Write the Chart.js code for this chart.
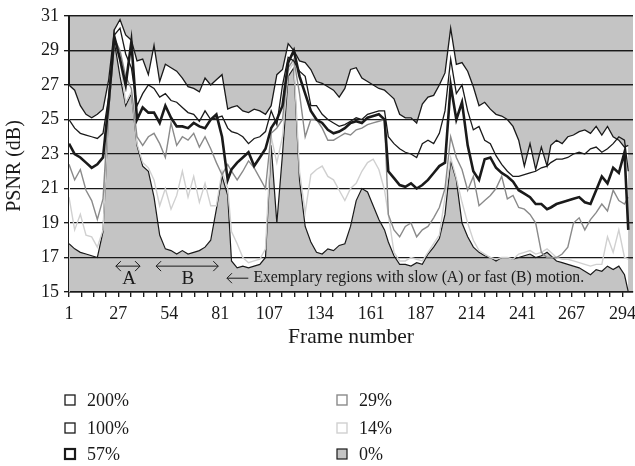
<!DOCTYPE html>
<html>
<head>
<meta charset="utf-8">
<script src="https://cdn.jsdelivr.net/npm/chart.js@4.4.1/dist/chart.umd.min.js"></script>
<style>
  html, body { margin: 0; padding: 0; background: #fff; }
  canvas { display: block; }
</style>
</head>
<body>
<canvas id="psnrChart" width="635" height="466"></canvas>
<script>
// frame numbers of the sampled points
var frames = [1,4,7,10,13,16,19,22,25,28,31,34,37,40,43,46,49,52,55,58,61,64,67,70,73,76,79,82,85,87,
  90,93,96,99,102,105,108,111,114,117,120,123,126,129,132,135,138,141,144,147,150,153,156,159,162,165,168,170,173,176,
  179,182,185,188,191,194,197,200,203,206,209,212,215,218,221,224,227,230,233,236,239,242,245,248,251,254,256,259,262,265,
  268,271,274,277,280,283,286,289,292,295,297];

// PSNR (dB) per series
var psnr200 = [27.0,26.7,25.8,25.3,25.1,25.3,25.6,27.3,30.2,30.8, 29.9,29.6,28.4,28.5,27.6,29.3,27.2,28.2,28.0,27.8,
  27.4,26.9,26.8,26.6,27.4,27.0,27.3,27.6,25.6,25.7, 25.8,25.5,25.4,25.6,25.5,25.3,25.8,27.6,27.9,29.4,
  29.0,28.4,28.3,27.9,27.2,27.1,26.9,26.7,26.3,26.8, 27.9,28.0,27.4,27.2,27.0,26.8,26.7,26.5,26.2,25.3,
  25.1,25.1,24.8,25.9,26.3,26.4,27.0,27.7,30.3,28.2, 28.3,27.8,26.9,25.8,26.0,25.6,25.3,25.2,25.0,24.6,
  23.8,22.3,23.6,22.1,23.4,22.3,23.5,23.8,23.6,24.0, 24.1,24.3,24.4,24.2,24.6,24.1,24.6,24.0,23.8,23.4, 23.5];
var psnr100 = [25.0,24.5,24.2,24.1,24.0,23.9,24.2,26.3,29.9,30.3, 28.8,28.0,25.8,26.5,27.0,26.8,26.3,26.5,26.1,26.0,
  25.7,25.4,25.3,24.9,25.5,25.0,25.1,25.2,24.5,24.3, 24.2,24.0,23.6,23.9,24.0,24.3,25.5,24.7,27.0,28.6,
  28.4,27.8,27.5,25.8,25.8,25.3,25.0,24.8,24.6,24.7, 24.9,25.1,25.0,25.3,25.4,25.5,25.5,24.0,23.6,23.3,
  23.1,23.0,22.8,23.6,23.8,23.6,24.2,25.5,28.5,26.5, 27.0,25.5,24.4,24.6,23.8,23.6,22.9,22.4,22.0,21.7,
  21.7,21.8,21.9,22.0,22.2,22.3,22.5,22.7,22.7,22.8, 23.0,23.1,23.0,23.3,23.4,23.1,23.3,23.6,24.0,23.8, 22.0];
var psnr57 = [23.6,23.0,22.8,22.5,22.2,22.4,22.8,26.0,29.8,28.5, 27.0,29.5,25.0,25.7,25.4,25.4,24.8,25.8,25.1,24.6,
  24.6,24.5,24.8,24.6,24.5,25.0,25.3,24.0,21.5,22.1, 22.5,22.8,23.1,22.3,22.8,23.3,24.5,25.0,25.8,28.3,
  29.0,27.5,26.5,25.5,25.0,24.8,24.4,24.2,24.3,24.5, 24.8,24.9,24.8,25.1,25.2,25.3,25.0,22.0,21.6,21.2,
  21.1,21.3,21.0,21.2,21.5,21.9,22.3,22.5,27.0,25.0, 26.0,23.5,22.0,21.5,22.7,22.8,22.2,21.9,21.7,21.4,
  20.9,20.7,20.5,20.1,20.1,19.8,19.9,20.1,20.2,20.3, 20.4,20.5,20.2,20.1,20.9,21.7,21.3,22.2,21.9,23.1, 18.6];
var psnr29 = [22.4,21.5,22.1,20.9,20.3,19.2,20.4,25.8,29.7,29.0, 27.5,26.8,24.0,23.5,24.0,24.2,23.6,22.8,24.8,23.5,
  24.0,23.8,24.2,23.4,24.0,23.3,22.5,21.8,22.4,22.0, 21.5,22.0,22.6,22.2,21.6,21.0,24.2,24.5,25.0,28.0,
  28.5,26.5,24.0,25.0,25.0,24.5,23.8,23.8,24.0,24.2, 24.1,24.4,24.5,24.7,24.8,24.9,25.0,19.5,18.6,18.2,
  18.8,19.0,18.2,18.6,18.8,19.3,19.9,21.0,24.0,22.8, 22.1,20.9,21.7,20.0,20.3,20.6,21.0,21.7,20.4,20.6,
  19.9,19.8,19.5,19.0,17.3,17.0,17.0,17.0,17.2,17.6, 19.0,19.3,18.6,19.2,19.6,20.1,19.7,20.9,20.3,20.1, 20.5];
var psnr14 = [20.5,18.6,19.5,18.3,18.2,17.6,18.6,25.6,29.6,28.5, 26.0,26.6,23.6,22.5,22.2,21.5,20.0,21.0,19.8,20.6,
  22.0,20.5,21.7,20.2,21.3,20.0,20.0,22.0,21.0,18.5, 17.8,17.0,16.7,16.8,16.9,17.5,24.0,22.5,24.0,27.8,
  28.3,22.0,19.6,21.8,22.1,22.3,21.7,21.5,20.9,20.3, 21.0,21.3,22.0,22.5,22.7,22.1,20.9,19.5,17.3,16.8,
  16.8,17.0,16.9,16.8,17.3,17.8,18.3,20.5,22.8,21.6, 20.2,19.0,18.0,17.4,17.2,17.0,16.9,17.0,17.0,16.9,
  17.2,17.3,17.4,17.2,17.3,17.5,17.3,17.0,16.9,16.9, 16.8,16.7,16.6,16.5,16.6,16.6,18.2,17.3,18.6,17.0, 16.9];
var psnr0 = [17.8,17.5,17.3,17.2,17.1,17.0,18.5,25.5,29.5,27.5, 25.8,26.5,23.5,22.3,22.0,20.5,18.3,17.5,17.4,17.2,
  17.4,17.2,17.3,17.4,17.6,18.0,19.8,21.7,20.6,16.8, 16.4,16.5,16.4,16.5,16.6,17.0,23.5,19.0,23.0,27.5,
  28.0,21.5,18.8,17.9,17.3,17.2,17.5,17.4,17.7,17.8, 18.8,20.3,21.0,20.8,20.0,19.2,18.6,17.9,17.1,16.6,
  16.6,16.5,16.7,16.6,17.2,17.6,18.1,19.5,22.6,21.5, 19.0,18.2,17.6,17.3,17.1,17.0,16.8,17.0,17.0,16.9,
  17.0,17.1,17.2,17.0,17.1,17.3,17.1,16.8,16.7,16.6, 16.5,16.4,16.2,16.0,16.3,16.2,16.5,16.3,16.5,16.0, 15.0];

var seriesNames = ['200%', '100%', '57%', '29%', '14%', '0%'];
var xTickLabels = [1, 27, 54, 81, 107, 134, 161, 187, 214, 241, 267, 294];

var ink = '#1a1a1a';
var plotGray = '#c4c4c4';
var serif = 'Liberation Serif';

function points(vals) {
    return vals.map(function (v, i) { return { x: frames[i], y: v }; });
}

// grey plot area, grid lines put back on top of the area fills
var plotArea = {
    id: 'plotArea',
    beforeDraw: function (chart) {
        var a = chart.chartArea, ctx = chart.ctx;
        ctx.save();
        ctx.fillStyle = plotGray;
        ctx.fillRect(a.left, a.top, a.right - a.left, a.bottom - a.top);
        ctx.restore();
    },
    beforeDatasetsDraw: function (chart) {
        chart.scales.y.drawGrid(chart.chartArea);
        chart.scales.x.drawGrid(chart.chartArea);
    },
    afterDraw: function (chart) {
        // y axis title sits a little below the middle of the axis in the original
        var ctx = chart.ctx;
        ctx.save();
        ctx.translate(15, 166);
        ctx.rotate(-Math.PI / 2);
        ctx.fillStyle = ink;
        ctx.font = '20px "' + serif + '"';
        ctx.textAlign = 'center';
        ctx.textBaseline = 'middle';
        ctx.fillText('PSNR (dB)', 0, 0);
        ctx.restore();
    }
};

function arrow(ctx, x1, x2, y, both) {
    var h = 5;
    ctx.beginPath();
    ctx.moveTo(x1, y); ctx.lineTo(x2, y);
    ctx.moveTo(x1 + h, y - h); ctx.lineTo(x1, y); ctx.lineTo(x1 + h, y + h);
    if (both) {
        ctx.moveTo(x2 - h, y - h); ctx.lineTo(x2, y); ctx.lineTo(x2 - h, y + h);
    }
    ctx.stroke();
}

var motionNotes = {
    id: 'motionNotes',
    afterDatasetsDraw: function (chart) {
        var ctx = chart.ctx, x = chart.scales.x, y = chart.scales.y;
        var yArrow = y.getPixelForValue(16.5);
        var yText = y.getPixelForValue(15.8);
        ctx.save();
        ctx.strokeStyle = ink;
        ctx.lineWidth = 1;
        arrow(ctx, x.getPixelForValue(25.8), x.getPixelForValue(38.6), yArrow, true);
        arrow(ctx, x.getPixelForValue(47.1), x.getPixelForValue(80), yArrow, true);
        arrow(ctx, x.getPixelForValue(84.6), x.getPixelForValue(95.9), yText, false);
        ctx.fillStyle = ink;
        ctx.textBaseline = 'middle';
        ctx.textAlign = 'center';
        ctx.font = '19px "' + serif + '"';
        ctx.fillText('A', x.getPixelForValue(32.8), yText + 1);
        ctx.fillText('B', x.getPixelForValue(63.9), yText + 1);
        ctx.textAlign = 'left';
        ctx.font = '15.7px "' + serif + '"';
        ctx.fillText('Exemplary regions with slow (A) or fast (B) motion.', x.getPixelForValue(98.6), yText);
        ctx.restore();
    }
};

// two-column legend under the axis title
var boxLegend = {
    id: 'boxLegend',
    afterDraw: function (chart) {
        var ctx = chart.ctx;
        var cols = [65, 337], rows = [400, 428, 454];
        ctx.save();
        ctx.font = '18px "' + serif + '"';
        ctx.textBaseline = 'middle';
        ctx.textAlign = 'left';
        chart.data.datasets.forEach(function (ds, i) {
            var bx = cols[Math.floor(i / 3)], by = rows[i % 3];
            ctx.fillStyle = ds.fill ? ds.backgroundColor : '#fff';
            ctx.fillRect(bx, by - 5, 10, 10);
            ctx.strokeStyle = ds.borderColor;
            ctx.lineWidth = Math.min(ds.borderWidth, 2.2);
            ctx.strokeRect(bx, by - 5, 10, 10);
            ctx.fillStyle = ink;
            ctx.fillText(ds.label, bx + 22, by + 1);
        });
        ctx.restore();
    }
};

var ctx = document.getElementById('psnrChart').getContext('2d');

var psnrChart = new Chart(ctx, {
    type: 'line',
    data: {
        datasets: [
            { label: seriesNames[0], data: points(psnr200), borderColor: ink, borderWidth: 1.3, backgroundColor: '#ffffff', fill: 'start', order: 5 },
            { label: seriesNames[1], data: points(psnr100), borderColor: ink, borderWidth: 1.3, fill: false, order: 1 },
            { label: seriesNames[2], data: points(psnr57), borderColor: ink, borderWidth: 2.6, fill: false, order: 0 },
            { label: seriesNames[3], data: points(psnr29), borderColor: '#8a8a8a', borderWidth: 1.4, fill: false, order: 2 },
            { label: seriesNames[4], data: points(psnr14), borderColor: '#d0d0d0', borderWidth: 1.4, fill: false, order: 3 },
            { label: seriesNames[5], data: points(psnr0), borderColor: ink, borderWidth: 1.2, backgroundColor: plotGray, fill: 'start', order: 4 }
        ]
    },
    options: {
        responsive: false,
        animation: false,
        devicePixelRatio: 1,
        elements: {
            point: { radius: 0 },
            line: { tension: 0 }
        },
        layout: { padding: { top: 16, right: 2, bottom: 116, left: 0 } },
        scales: {
            x: {
                type: 'linear',
                min: 1,
                max: 299.5,
                afterBuildTicks: function (scale) {
                    var t = [];
                    for (var i = 0; i < xTickLabels.length; i++) {
                        var a = xTickLabels[i];
                        t.push({ value: a });
                        if (i < xTickLabels.length - 1) {
                            var b = xTickLabels[i + 1];
                            for (var j = 1; j < 4; j++) t.push({ value: a + (b - a) * j / 4 });
                        }
                    }
                    scale.ticks = t;
                },
                afterFit: function (scale) {
                    scale.height = 58;
                    scale.paddingLeft = 0;
                    scale.paddingRight = 0;
                },
                ticks: {
                    autoSkip: false,
                    maxRotation: 0,
                    color: ink,
                    padding: 6,
                    font: { family: serif, size: 18 },
                    callback: function (v) { return xTickLabels.indexOf(v) >= 0 ? String(v) : ''; }
                },
                grid: { drawOnChartArea: false, drawTicks: true, tickLength: 5, color: ink, lineWidth: 1.2 },
                border: { display: true, color: ink, width: 1.5 },
                title: { display: true, text: 'Frame number', color: ink, font: { family: serif, size: 21.5 }, padding: { top: 0, bottom: 0 } }
            },
            y: {
                min: 15,
                max: 31,
                afterFit: function (scale) { scale.width = 69; },
                ticks: { stepSize: 2, color: ink, padding: 5, font: { family: serif, size: 18 } },
                grid: { color: ink, lineWidth: 1.2, tickLength: 5 },
                border: { display: true, color: ink, width: 2 },
                title: { display: false }
            }
        },
        plugins: {
            filler: { drawTime: 'beforeDatasetsDraw' },
            legend: { display: false },
            tooltip: { enabled: false }
        }
    },
    plugins: [plotArea, motionNotes, boxLegend]
});
</script>
</body>
</html>
